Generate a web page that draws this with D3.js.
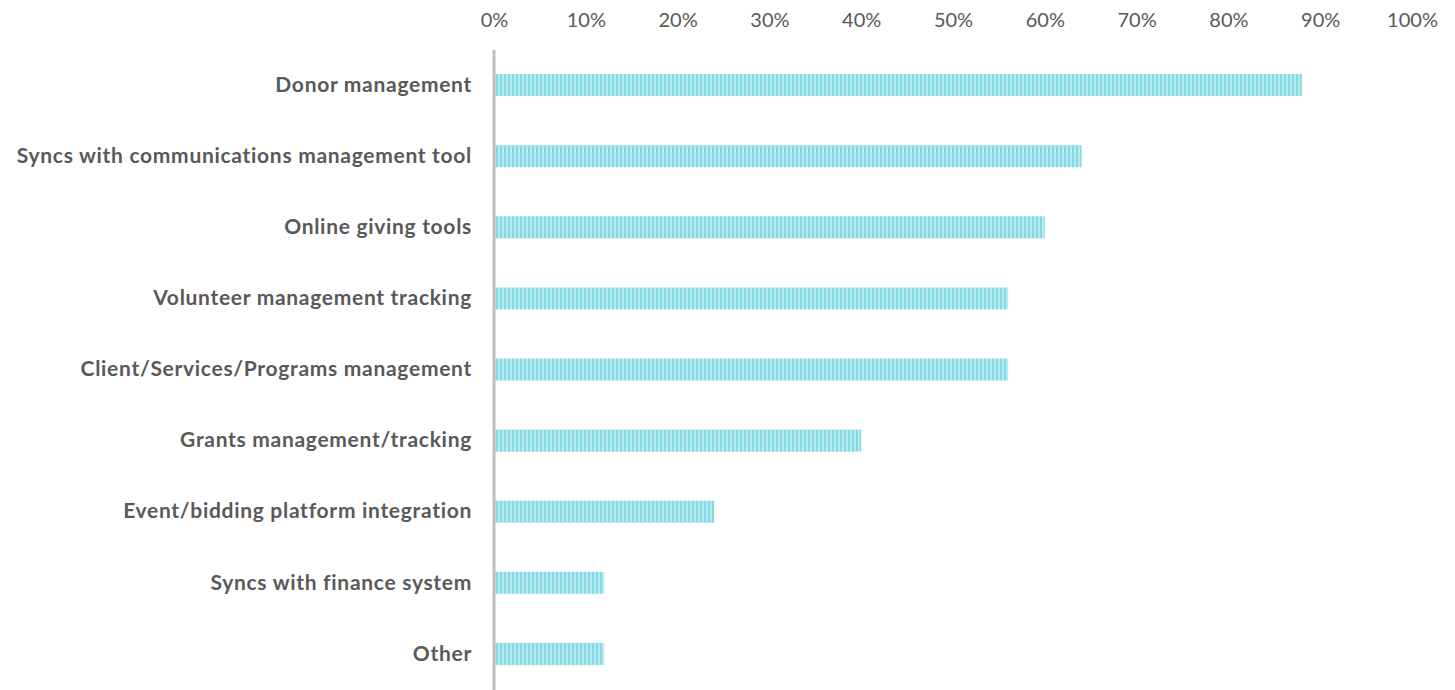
<!DOCTYPE html>
<html><head><meta charset="utf-8">
<script src="https://cdn.jsdelivr.net/npm/d3@7"></script>
<style>body{margin:0;background:#fff;}svg{display:block;}</style>
</head><body>
<svg id="c" width="1455" height="690"></svg>
<script>
const categories = ["Donor management","Syncs with communications management tool","Online giving tools","Volunteer management tracking","Client/Services/Programs management","Grants management/tracking","Event/bidding platform integration","Syncs with finance system","Other"];
const values = [88,64,60,56,56,40,24,12,12];
const tickValues = [0,10,20,30,40,50,60,70,80,90,100];

const svg = d3.select("#c");
const x = d3.scaleLinear().domain([0,100]).range([494,1412]);
const y = d3.scaleBand().domain(categories).range([49.5,689.5]).paddingInner(0.69).paddingOuter(0.345);

const defs = svg.append("defs");
const pat = defs.append("pattern").attr("id","stripes").attr("patternUnits","userSpaceOnUse").attr("width",4).attr("height",10);
pat.append("rect").attr("width",4).attr("height",10).attr("fill","#b5ebf0");
pat.append("rect").attr("width",2).attr("height",10).attr("fill","#86d9e1");

const xAxis = svg.append("g").attr("transform","translate(0,21)")
  .call(d3.axisTop(x).tickValues(tickValues).tickFormat(d=>d+"%").tickSize(0).tickPadding(0));
xAxis.select(".domain").remove();
xAxis.selectAll("text").attr("font-family","Lato, sans-serif").attr("font-size",20).attr("fill","#595959").attr("dy","0.32em");

svg.selectAll("rect.bar").data(values).join("rect").attr("class","bar")
  .attr("x",x(0)+1).attr("y",(d,i)=>y(categories[i]))
  .attr("width",d=>x(d)-x(0)-1).attr("height",y.bandwidth())
  .attr("fill","url(#stripes)");

svg.append("line").attr("x1",x(0)).attr("x2",x(0)).attr("y1",50).attr("y2",690).attr("stroke","#bfbfbf").attr("stroke-width",3);

const yAxis = svg.append("g").attr("transform",`translate(${x(0)},0)`)
  .call(d3.axisLeft(y).tickSize(0).tickPadding(22));
yAxis.select(".domain").remove();
yAxis.selectAll("text").attr("font-family","Lato, sans-serif").attr("font-weight","bold").attr("font-size",21).attr("letter-spacing","0.7px").attr("fill","#595959");
</script>
</body></html>
